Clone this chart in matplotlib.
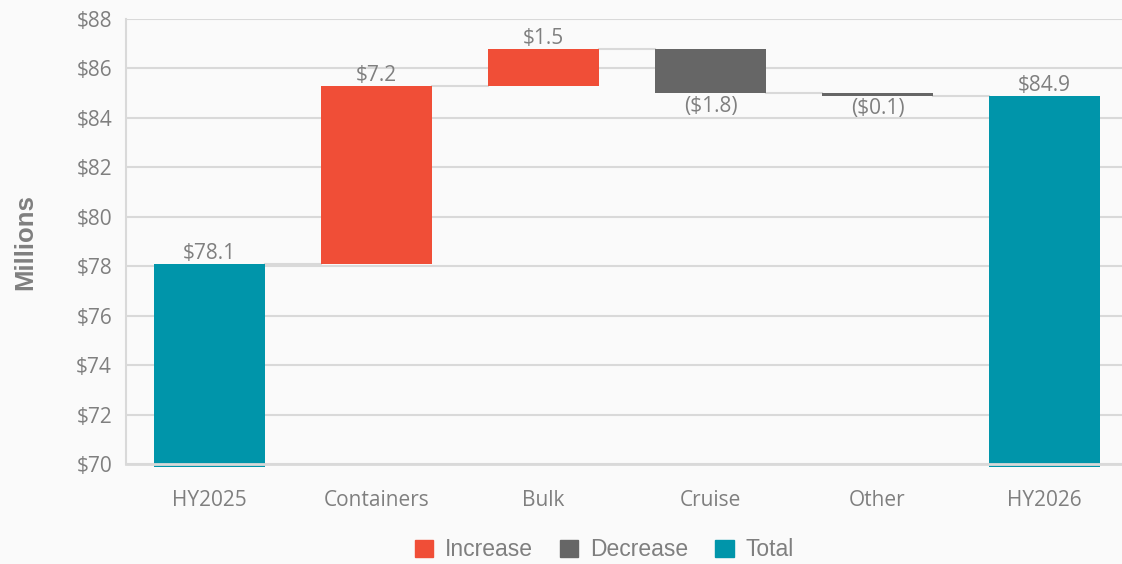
import matplotlib
matplotlib.use("Agg")
import matplotlib.pyplot as plt
import matplotlib.patches as mpatches
import numpy as np

# waterfall data (millions)
categories = ["HY2025", "Containers", "Bulk", "Cruise", "Other", "HY2026"]
changes = [78.1, 7.2, 1.5, -1.8, -0.1, 84.9]
kinds = ["total", "inc", "inc", "dec", "dec", "total"]
labels = ["$78.1", "$7.2", "$1.5", "($1.8)", "($0.1)", "$84.9"]

colors = {"inc": "#F04E37", "dec": "#666666", "total": "#0095AA"}
text_gray = "#7F7F7F"
grid_gray = "#D9D9D9"
bg = "#FAFAFA"

fig = plt.figure(figsize=(11.22, 5.64), dpi=100, facecolor=bg)
ax = fig.add_axes([126 / 1122, 1 - 464 / 564, 1002 / 1122, 445 / 564])
ax.set_facecolor(bg)

ymin, ymax = 70, 88
x = np.arange(len(categories))
width = 0.67

# compute bar bottoms / tops
running = 0
bottoms, tops = [], []
for kind, c in zip(kinds, changes):
    if kind == "total":
        running = c
        bottoms.append(ymin - 0.12)
        tops.append(c)
    else:
        b = running
        running = running + c
        bottoms.append(min(b, running))
        tops.append(max(b, running))

for i, kind in enumerate(kinds):
    ax.bar(x[i], tops[i] - bottoms[i], width, bottom=bottoms[i],
           color=colors[kind], zorder=3, clip_on=False, linewidth=0)

# connectors
level = changes[0]
for i in range(len(categories) - 1):
    if kinds[i] != "total":
        level = level + changes[i]
    ax.plot([x[i] + width / 2, x[i + 1] - width / 2], [level, level],
            color=grid_gray, lw=1.5, zorder=2)

# data labels
for i, kind in enumerate(kinds):
    if kind == "dec":
        ax.text(x[i], bottoms[i] - 0.1, labels[i], ha="center", va="top",
                fontsize=15, color=text_gray, family="Open Sans", zorder=4)
    else:
        ax.text(x[i], tops[i] + 0.0, labels[i], ha="center", va="bottom",
                fontsize=15, color=text_gray, family="Open Sans", zorder=4)

ax.set_xlim(-0.5, len(categories) - 0.5)
ax.set_ylim(ymin, ymax)
ax.set_yticks(np.arange(70, 89, 2))
ax.set_yticklabels([f"${v}" for v in range(70, 89, 2)])
ax.set_xticks(x)
ax.set_xticklabels(categories)
ax.tick_params(length=0, labelsize=15, labelcolor=text_gray, pad=10)
ax.tick_params(axis="x", pad=19)
for lbl in ax.get_xticklabels() + ax.get_yticklabels():
    lbl.set_family("Open Sans")

ax.grid(axis="y", color=grid_gray, lw=1.5, zorder=0)
ax.set_axisbelow(True)
for side in ["top", "right"]:
    ax.spines[side].set_visible(False)
ax.spines["left"].set_color(grid_gray)
ax.spines["left"].set_linewidth(1.5)
ax.spines["bottom"].set_color(grid_gray)
ax.spines["bottom"].set_linewidth(2)
ax.spines["bottom"].set_zorder(5)

fig.text(25 / 1122, 1 - 242 / 564, "Millions", rotation=90, ha="center",
         va="center", fontsize=18.5, fontweight="bold", color=text_gray,
         family="Liberation Sans")

handles = [mpatches.Patch(color=colors["inc"], label="Increase"),
           mpatches.Patch(color=colors["dec"], label="Decrease"),
           mpatches.Patch(color=colors["total"], label="Total")]
leg = fig.legend(handles=handles, loc="center", bbox_to_anchor=(604 / 1122, 1 - 550 / 564),
                 ncol=3, frameon=False, handlelength=0.8, handleheight=0.8,
                 handletextpad=0.5, columnspacing=1.2, borderpad=0.2,
                 prop={"family": "Liberation Sans", "size": 16.5})
for t in leg.get_texts():
    t.set_color(text_gray)

fig.savefig("out.png", dpi=100, facecolor=bg)
